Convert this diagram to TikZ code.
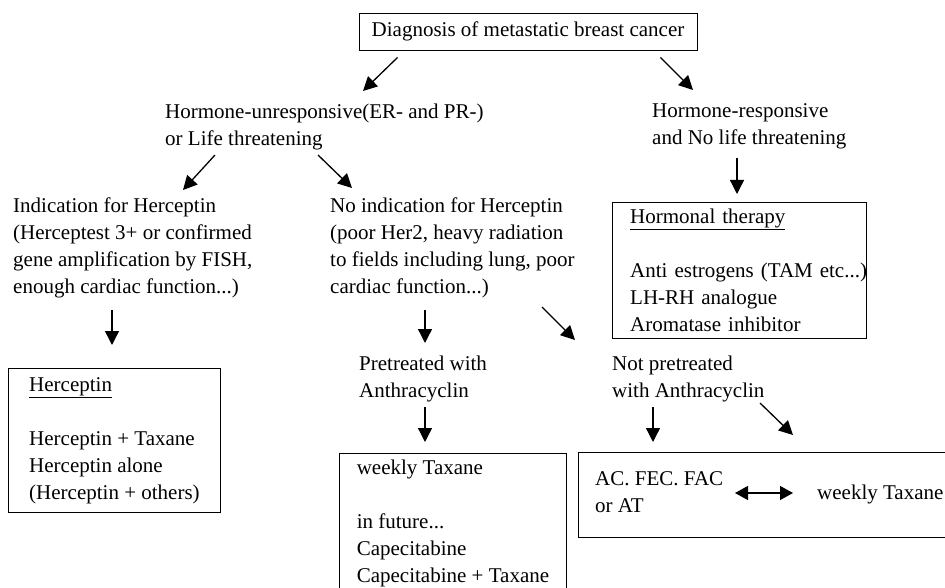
\documentclass[tikz,border=0pt]{standalone}
\usepackage{fontspec}
\setmainfont{Liberation Serif}
\usetikzlibrary{arrows.meta}
\newcommand\fsz{\fontsize{21}{27}\selectfont}
\begin{document}
\begin{tikzpicture}[x=1pt,y=-1pt,
    every node/.style={font=\fsz,inner sep=0pt,align=left},
    txt/.style={anchor=north west},
    box/.style={draw,line width=0.9pt,anchor=north west},
    arr/.style={line width=1.3pt,-{Triangle[length=14pt,width=14pt]}},
    dbl/.style={line width=1.3pt,{Triangle[length=13pt,width=14pt]}-{Triangle[length=13pt,width=14pt]}}]
    \useasboundingbox[fill=white] (0,0) rectangle (945,588);
    \node[draw,line width=0.9pt,minimum width=338pt,minimum height=37pt] (diag) at (528,31.5) {Diagnosis of metastatic breast cancer};
    \node[txt] (hu) at (165,103.5) {Hormone-unresponsive(ER- and PR-)\\or Life threatening};
    \node[txt] (hr) at (652,103.5) {Hormone-responsive\\and No life threatening};
    \node[txt] (ind) at (13,197.5) {Indication for Herceptin\\(Herceptest 3+ or confirmed\\gene amplification by FISH,\\enough cardiac function...)};
    \node[txt] (noind) at (330,197.5) {No indication for Herceptin\\(poor Her2, heavy radiation\\to fields including lung, poor\\cardiac function...)};
    \node[txt,text width=280pt,minimum height=136pt] (hb) at (630,202) {\underline{Hormonal therapy}\\[27pt]Anti estrogens (TAM etc...)\\LH-RH analogue\\Aromatase inhibitor};
    \draw[line width=0.9pt] ([shift={(-18,0)}]hb.north west) rectangle ([shift={(236,0)}]hb.south west);
    \node[box,minimum width=212pt,minimum height=144pt] (herb) at (8,368) {\underline{Herceptin}\\[27pt]Herceptin + Taxane\\Herceptin alone\\(Herceptin + others)};
    \node[txt] (pre) at (359,355.5) {Pretreated with\\Anthracyclin};
    \node[txt] (notpre) at (612,355.5) {Not pretreated\\with Anthracyclin};
    \node[box,minimum width=227pt,inner ysep=6.5pt] (wtb) at (339,453) {weekly Taxane\\[27pt]in future...\\Capecitabine\\Capecitabine + Taxane};
    \node[box,minimum width=380pt,minimum height=85pt] (rb) at (578,452) {};
    \node[txt] (acfec) at (595,471.5) {AC. FEC. FAC\\or AT};
    \node[anchor=base west] (wtr) at (817,499) {weekly Taxane};
    \draw[arr] ([shift={(39,7)}]diag.south west) -- ([shift={(198,-12.5)}]hu.north west);
    \draw[arr] ([shift={(-37,7)}]diag.south east) -- ([shift={(41,-13.5)}]hr.north west);
    \draw[arr] ([shift={(50,51.5)}]hu.north west) -- ([shift={(170,-7.5)}]ind.north west);
    \draw[arr] ([shift={(153,51.5)}]hu.north west) -- ([shift={(22,-9.5)}]noind.north west);
    \draw[arr] ([shift={(85,54.5)}]hr.north west) -- ([shift={(107,-8)}]hb.north west);
    \draw[arr] ([shift={(99,112.5)}]ind.north west) -- ([shift={(104,-23)}]herb.north west);
    \draw[arr] ([shift={(95,112.5)}]noind.north west) -- ([shift={(66,-12.5)}]pre.north west);
    \draw[arr] ([shift={(212,109.5)}]noind.north west) -- ([shift={(-37,-15.5)}]notpre.north west);
    \draw[arr] ([shift={(66,51.5)}]pre.north west) -- ([shift={(86,-11)}]wtb.north west);
    \draw[arr] ([shift={(41,51.5)}]notpre.north west) -- ([shift={(75,-10)}]rb.north west);
    \draw[arr] ([shift={(148,47.5)}]notpre.north west) -- ([shift={(215,-17)}]rb.north west);
    \draw[dbl] ([shift={(140,21.5)}]acfec.north west) -- ([shift={(-24,-6)}]wtr.base west);
\end{tikzpicture}
\end{document}
